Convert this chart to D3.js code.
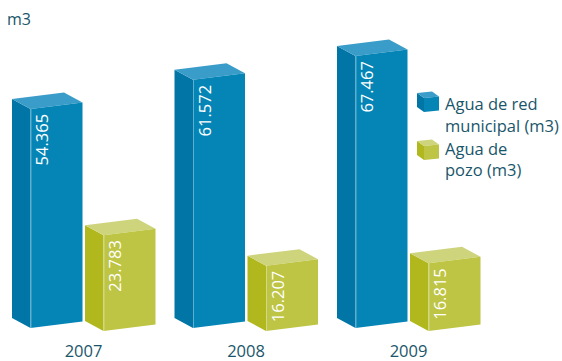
<!DOCTYPE html>
<html>
<head>
<meta charset="utf-8">
<script src="https://cdn.jsdelivr.net/npm/d3@7"></script>
<style>
  html, body { margin: 0; padding: 0; background: #ffffff; }
  svg { display: block; font-family: "Open Sans", "Noto Sans", sans-serif; }
</style>
</head>
<body>
<script>
// Water consumption by source, in cubic metres
const years = ["2007", "2008", "2009"];
const seriesKeys = ["red", "pozo"];
const redMunicipal = [54365, 61572, 67467];
const pozo = [23783, 16207, 16815];
const legendLines = [["Agua de red", "municipal (m3)"], ["Agua de", "pozo (m3)"]];
const unitLabel = "m3";

const W = 562, H = 361;
const svg = d3.select("body").append("svg").attr("width", W).attr("height", H);

const fmt = d3.formatLocale({ decimal: ",", thousands: ".", grouping: [3], currency: ["", ""] }).format(",d");

// Palette per series: side, front, top faces
const faces = {
  red:  { side: "#0075a6", front: "#0585b6", top: "#3a9cc8" },
  pozo: { side: "#b0b81d", front: "#bec443", top: "#ced47c" }
};
const textColor = "#19566a";

// Scales
const x0 = d3.scaleBand().domain(years).range([12, 499.5]);
const x1 = d3.scaleBand().domain(seriesKeys).range([0, 146]);
const hScale = d3.scaleLinear().domain([0, 70000]).range([0, 282.1]);

// Box projection settings
const depthX = 18.5, depthY = 10, frontW = 52, tilt = -6.5;
const baseY = { red: 328, pozo: 331 };

function boxPaths(fx, fy, w, ht, dx, dy, t) {
  const ty = fy - ht;
  const front = [[fx, ty], [fx + w, ty + t], [fx + w, fy + t], [fx, fy]];
  const side = [[fx - dx, ty - dy], [fx, ty], [fx, fy], [fx - dx, fy - dy]];
  const top = [[fx - dx, ty - dy], [fx - dx + w, ty - dy + t], [fx + w, ty + t], [fx, ty]];
  const line = d3.line();
  return { front: line(front) + "Z", side: line(side) + "Z", top: line(top) + "Z" };
}

const rows = years.map((yr, i) => ({ year: yr, values: { red: redMunicipal[i], pozo: pozo[i] } }));

const groups = svg.append("g").selectAll("g.year")
  .data(rows).join("g").attr("class", "year");

groups.each(function (row) {
  const g = d3.select(this);
  seriesKeys.forEach(key => {
    const v = row.values[key];
    const fx = x0(row.year) + x1(key) + depthX;
    const fy = baseY[key];
    const ht = hScale(v);
    const p = boxPaths(fx, fy, frontW, ht, depthX, depthY, tilt);
    const c = faces[key];
    g.append("path").attr("d", p.side).attr("fill", c.side);
    g.append("path").attr("d", p.top).attr("fill", c.top);
    g.append("path").attr("d", p.front).attr("fill", c.front);
    // soft highlight on the front edge
    g.append("line")
      .attr("x1", fx + 0.5).attr("x2", fx + 0.5)
      .attr("y1", fy - ht).attr("y2", fy)
      .attr("stroke", "rgba(255,255,255,0.35)").attr("stroke-width", 1);
    g.append("text")
      .attr("transform", `translate(${fx + 17.5},${fy - ht + 5}) rotate(-90)`)
      .attr("text-anchor", "end")
      .attr("fill", "#ffffff")
      .attr("font-size", 16.5)
      .text(fmt(v));
  });
  g.append("text")
    .attr("x", x0(row.year) + 71.5)
    .attr("y", 357)
    .attr("text-anchor", "middle")
    .attr("fill", textColor)
    .attr("font-size", 16.5)
    .text(row.year);
});

// Unit label
svg.append("text")
  .attr("x", 7).attr("y", 25)
  .attr("fill", textColor)
  .attr("font-size", 16)
  .text(unitLabel);

// Legend
const legend = svg.append("g");
const legendBase = [112, 160];
const legendText = [[110, 132], [155, 176]];
seriesKeys.forEach((key, i) => {
  const p = boxPaths(424, legendBase[i], 15, 14, 7, 5, -1.5);
  const c = faces[key];
  legend.append("path").attr("d", p.side).attr("fill", c.side);
  legend.append("path").attr("d", p.top).attr("fill", c.top);
  legend.append("path").attr("d", p.front).attr("fill", c.front);
  legendLines[i].forEach((ln, j) => {
    legend.append("text")
      .attr("x", 445).attr("y", legendText[i][j])
      .attr("fill", textColor)
      .attr("font-size", 16.5)
      .text(ln);
  });
});
</script>
</body>
</html>
